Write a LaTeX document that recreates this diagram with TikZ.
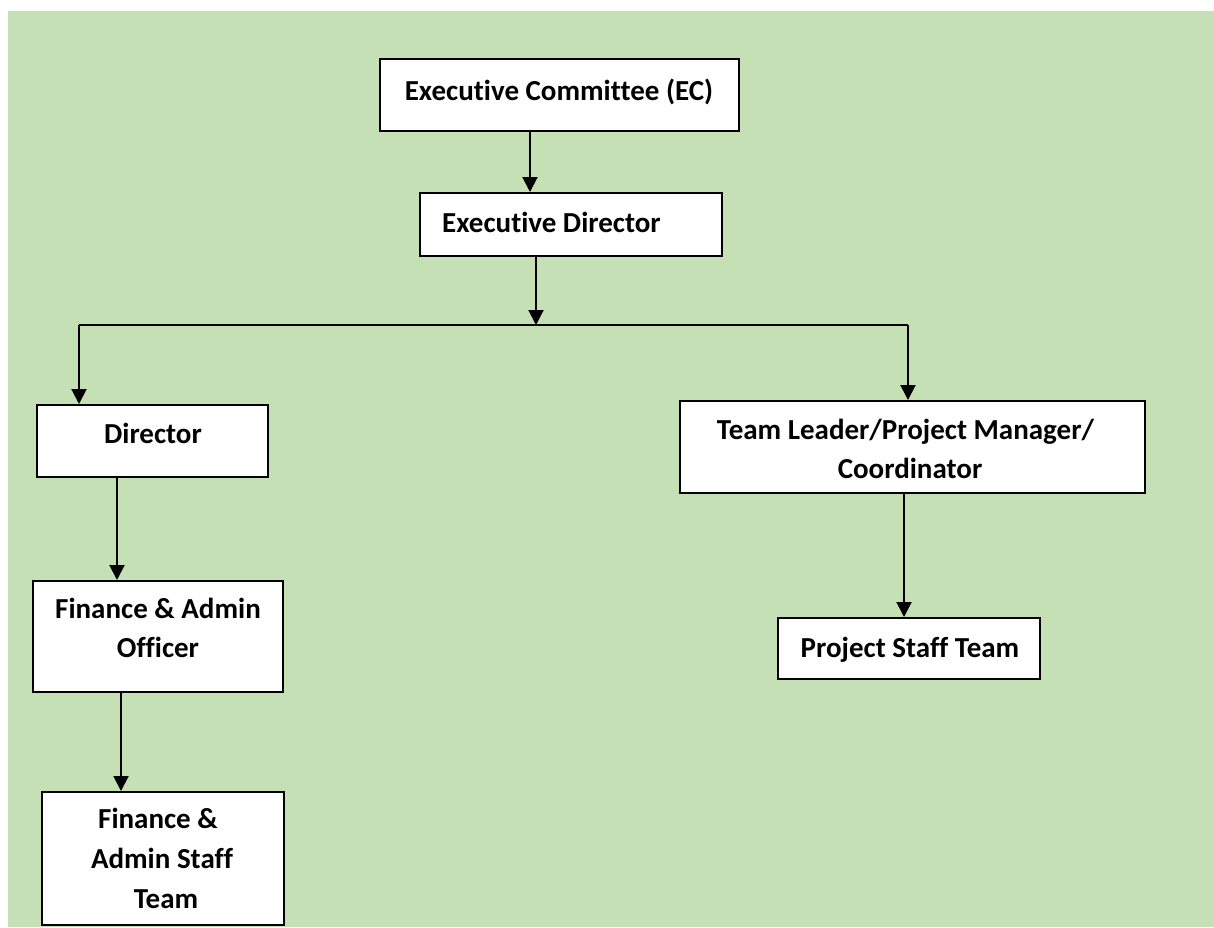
\documentclass[tikz,border=0pt]{standalone}
\usepackage{fontspec}
\setmainfont[Ligatures={NoCommon}]{Carlito}
\usetikzlibrary{arrows.meta}
\definecolor{bggreen}{HTML}{C5E0B4}
\begin{document}
\begin{tikzpicture}[x=1pt,y=-1pt,
  box/.style={draw=black,fill=white,line width=2pt,rectangle,inner sep=0pt},
  lbl/.style={anchor=base,inner sep=0pt,font=\fontsize{29}{39}\selectfont\bfseries},
  arr/.style={draw=black,line width=2pt,-{Triangle[width=15pt,length=15pt]}},
  bar/.style={draw=black,line width=1.6pt}]
\useasboundingbox (0,0) rectangle (1214,927);
\fill[bggreen] (8,11) rectangle (1214,927);
% boxes
\node[box,minimum width=359pt,minimum height=72pt] (ec) at (559.5,95) {};
\node[box,minimum width=302pt,minimum height=63pt] (ed) at (571,224.5) {};
\node[box,minimum width=231pt,minimum height=72pt] (dir) at (152.5,441) {};
\node[box,minimum width=250pt,minimum height=111pt] (fao) at (158,636.5) {};
\node[box,minimum width=242pt,minimum height=133pt] (fas) at (163,858.5) {};
\node[box,minimum width=465pt,minimum height=92pt] (tl) at (912.5,447) {};
\node[box,minimum width=262pt,minimum height=61pt] (pst) at (909,648.5) {};
% labels
\node[lbl] (ect) at (559,100) {Executive Committee (EC)};
\node[lbl] (edt) at (551.5,232) {Executive Director};
\node[lbl] (dirt) at (153,443) {Director};
\node[lbl] (faot1) at (158,618) {Finance \& Admin};
\node[lbl] (faot2) at (158,657) {Officer};
\node[lbl] (fast1) at (158,828) {Finance \&};
\node[lbl] (fast2) at (162,868) {Admin Staff};
\node[lbl] (fast3) at (166,908) {Team};
\node[lbl] (tlt1) at (905.5,439) {Team Leader/Project Manager/};
\node[lbl] (tlt2) at (910,478) {Coordinator};
\node[lbl] (pstt) at (910,657) {Project Staff Team};
% connectors
\coordinate (jm) at (536,325);
\coordinate (jl) at (79,325);
\coordinate (jr) at (908,325);
\draw[arr] (ec.south -| 530,0) -- (ed.north -| 530,0);
\draw[arr] (ed.south -| jm) -- (jm);
\draw[bar] (jl) -- (jr);
\draw[arr] (jl) -- (jl |- dir.north);
\draw[arr] (jr) -- (jr |- tl.north);
\draw[arr] (dir.south -| 117,0) -- (fao.north -| 117,0);
\draw[arr] (fao.south -| 121,0) -- (fas.north -| 121,0);
\draw[arr] (tl.south -| 904,0) -- (pst.north -| 904,0);
\end{tikzpicture}
\end{document}
